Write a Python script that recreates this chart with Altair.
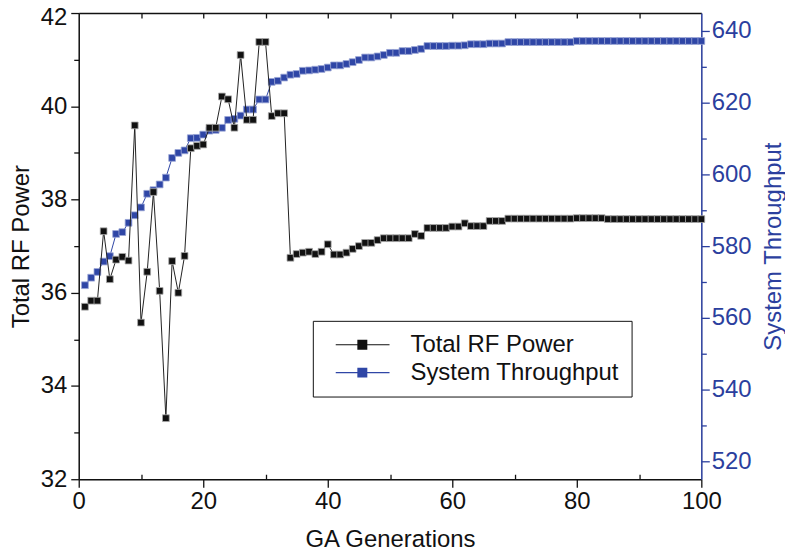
import altair as alt
import pandas as pd

# ---------------- data ----------------
generations = list(range(1, 101))

power = [
    35.70, 35.83, 35.83, 37.32, 36.29, 36.71, 36.77, 36.69, 39.59, 35.36,
    36.45, 38.16, 36.04, 33.31, 36.68, 36.00, 36.79, 39.10, 39.15, 39.18,
    39.54, 39.54, 40.21, 40.15, 39.54, 41.10, 39.71, 39.71, 41.38, 41.38,
    39.79, 39.85, 39.85, 36.75, 36.83, 36.86, 36.88, 36.83, 36.88, 37.04,
    36.82, 36.82, 36.86, 36.94, 37.00, 37.07, 37.07, 37.13, 37.17, 37.17,
    37.17, 37.17, 37.17, 37.26, 37.22, 37.39, 37.39, 37.39, 37.39, 37.42,
    37.42, 37.49, 37.43, 37.43, 37.43, 37.54, 37.54, 37.54, 37.59, 37.59,
    37.59, 37.59, 37.59, 37.59, 37.59, 37.59, 37.59, 37.59, 37.59, 37.60,
    37.60, 37.60, 37.60, 37.60, 37.58, 37.58, 37.58, 37.58, 37.58, 37.58,
    37.58, 37.58, 37.58, 37.58, 37.58, 37.58, 37.58, 37.58, 37.58, 37.58,
]

throughput = [
    569.1, 571.2, 572.8, 575.7, 577.2, 583.4, 583.9, 586.5, 588.6, 590.8,
    594.6, 595.6, 597.2, 599.1, 604.6, 606.0, 606.7, 610.1, 610.2, 611.1,
    612.2, 612.4, 613.0, 615.2, 615.5, 616.4, 618.1, 618.1, 620.9, 620.9,
    625.8, 626.1, 627.0, 627.8, 628.0, 628.9, 629.0, 629.2, 629.4, 629.8,
    630.4, 630.4, 630.8, 631.3, 631.9, 632.6, 632.6, 632.9, 633.3, 633.9,
    633.9, 634.4, 634.4, 634.7, 635.0, 635.8, 635.8, 635.8, 635.8, 635.9,
    635.9, 636.0, 636.3, 636.3, 636.3, 636.5, 636.5, 636.5, 636.9, 636.9,
    636.9, 636.9, 636.9, 636.9, 636.9, 636.9, 636.9, 636.9, 636.9, 637.2,
    637.2, 637.2, 637.2, 637.2, 637.2, 637.2, 637.2, 637.2, 637.2, 637.2,
    637.2, 637.2, 637.2, 637.2, 637.2, 637.2, 637.2, 637.2, 637.2, 637.2,
]

series_names = ["Total RF Power", "System Throughput"]

x_ticks = [0, 10, 20, 30, 40, 50, 60, 70, 80, 90, 100]
left_ticks = [32, 33, 34, 35, 36, 37, 38, 39, 40, 41, 42]
right_ticks = [520, 530, 540, 550, 560, 570, 580, 590, 600, 610, 620, 630, 640]

# ---------------- styling ----------------
FONT = "Liberation Sans"
BLACK = "#111111"
BLUE = "#2F46A6"
AXIS_BLUE = "#2B3F9E"
TITLE_SIZE = 24
LABEL_SIZE = 24

df_p = pd.DataFrame({"gen": generations, "value": power, "series": series_names[0]})
df_t = pd.DataFrame({"gen": generations, "value": throughput, "series": series_names[1]})

xscale = alt.Scale(domain=[0, 100], nice=False, zero=False)
yl_scale = alt.Scale(domain=[32, 42], nice=False, zero=False)
yr_scale = alt.Scale(domain=[515, 645], nice=False, zero=False)

# bottom axis: labelled majors outward, minors pointing into the plot
x_main = alt.Axis(orient="bottom", values=x_ticks,
                  tickSize={"condition": {"test": "datum.value % 20 === 0", "value": 8}, "value": -5},
                  tickWidth=1.3, tickColor=BLACK, domainColor=BLACK, domainWidth=1.5,
                  labelExpr="datum.value % 20 === 0 ? datum.label : ''",
                  labelFontSize=LABEL_SIZE, labelFont=FONT, labelColor=BLACK, labelPadding=2,
                  labelFlush=False, labelOverlap=False,
                  title="GA Generations", titleFont=FONT, titleFontSize=TITLE_SIZE,
                  titleFontWeight="normal", titleColor=BLACK, titlePadding=15, grid=False)
# top frame: ticks pointing into the plot
x_top = alt.Axis(orient="top", values=x_ticks[1:-1],
                 tickSize={"condition": {"test": "true", "value": -5}, "value": -5},
                 tickWidth=1.3, tickColor=BLACK, labels=False, domain=True,
                 domainColor=BLACK, domainWidth=1.5, title=None, grid=False)

y_left = alt.Axis(orient="left", values=left_ticks,
                  tickSize={"condition": {"test": "datum.value % 2 === 0", "value": 8}, "value": 5},
                  tickWidth=1.3, tickColor=BLACK, domainColor=BLACK, domainWidth=1.5,
                  labelExpr="datum.value % 2 === 0 ? datum.label : ''",
                  labelOffset={"condition": {"test": "datum.value === 42", "value": 5}, "value": 0},
                  labelFontSize=LABEL_SIZE, labelFont=FONT, labelColor=BLACK, labelPadding=4,
                  labelFlush=False, labelOverlap=False,
                  title="Total RF Power", titleFont=FONT, titleFontSize=TITLE_SIZE,
                  titleFontWeight="normal", titleColor=BLACK, titlePadding=7, grid=False)
y_right = alt.Axis(orient="right", values=right_ticks,
                   tickSize={"condition": {"test": "datum.value % 20 === 0", "value": 8}, "value": 5},
                   tickWidth=1.3, tickColor=AXIS_BLUE, domainColor=AXIS_BLUE, domainWidth=1.5,
                   labelExpr="datum.value % 20 === 0 ? datum.label : ''",
                   labelFontSize=LABEL_SIZE, labelFont=FONT, labelColor=AXIS_BLUE, labelPadding=2,
                   labelFlush=False, labelOverlap=False,
                   title="System Throughput", titleFont=FONT, titleFontSize=TITLE_SIZE,
                   titleFontWeight="normal", titleColor=AXIS_BLUE, titleAngle=270,
                   titleBaseline="top", titlePadding=10, grid=False)

LEGEND_PATH = "M-0.2,-0.12H10.6V0.12H-0.2Z M4.14,-1H6.14V1H4.14Z"
legend = alt.Legend(title=None, orient="none", legendX=235, legendY=309,
                    symbolType=LEGEND_PATH, symbolSize=100, symbolStrokeWidth=0,
                    labelFontSize=24, labelFont=FONT, labelColor=BLACK, labelLimit=600,
                    labelOffset=62, padding=12, rowPadding=4, strokeColor=BLACK)

color = alt.Color("series:N", scale=alt.Scale(domain=series_names, range=[BLACK, BLUE]),
                  legend=legend)

blue_line = alt.Chart(df_t).mark_line(color=BLUE, strokeWidth=1).encode(
    x=alt.X("gen:Q", scale=xscale, axis=x_top),
    y=alt.Y("value:Q", scale=yr_scale, axis=y_right),
)
blue_pts = alt.Chart(df_t).mark_square(size=46, opacity=1, stroke="#9aa6d6", strokeWidth=0.8).encode(
    x=alt.X("gen:Q", scale=xscale, axis=None),
    y=alt.Y("value:Q", scale=yr_scale, axis=None),
    color=color,
)
black_line = alt.Chart(df_p).mark_line(color="#222222", strokeWidth=1).encode(
    x=alt.X("gen:Q", scale=xscale, axis=x_main),
    y=alt.Y("value:Q", scale=yl_scale, axis=y_left),
)
black_pts = alt.Chart(df_p).mark_square(size=46, opacity=1, stroke="#aaaaaa", strokeWidth=0.8).encode(
    x=alt.X("gen:Q", scale=xscale, axis=None),
    y=alt.Y("value:Q", scale=yl_scale, axis=None),
    color=color,
)

chart = (
    alt.layer(blue_line, blue_pts, black_line, black_pts)
    .resolve_scale(y="independent")
    .resolve_axis(x="independent", y="independent")
    .properties(width=625, height=468,
                padding={"left": 71, "top": 4, "right": 84, "bottom": 71},
                autosize=alt.AutoSizeParams(type="none"))
    .configure_view(stroke=BLACK, strokeWidth=1.5)
    .configure(font=FONT)
)

chart.save("out.html", embed_options={"renderer": "svg", "actions": False})
